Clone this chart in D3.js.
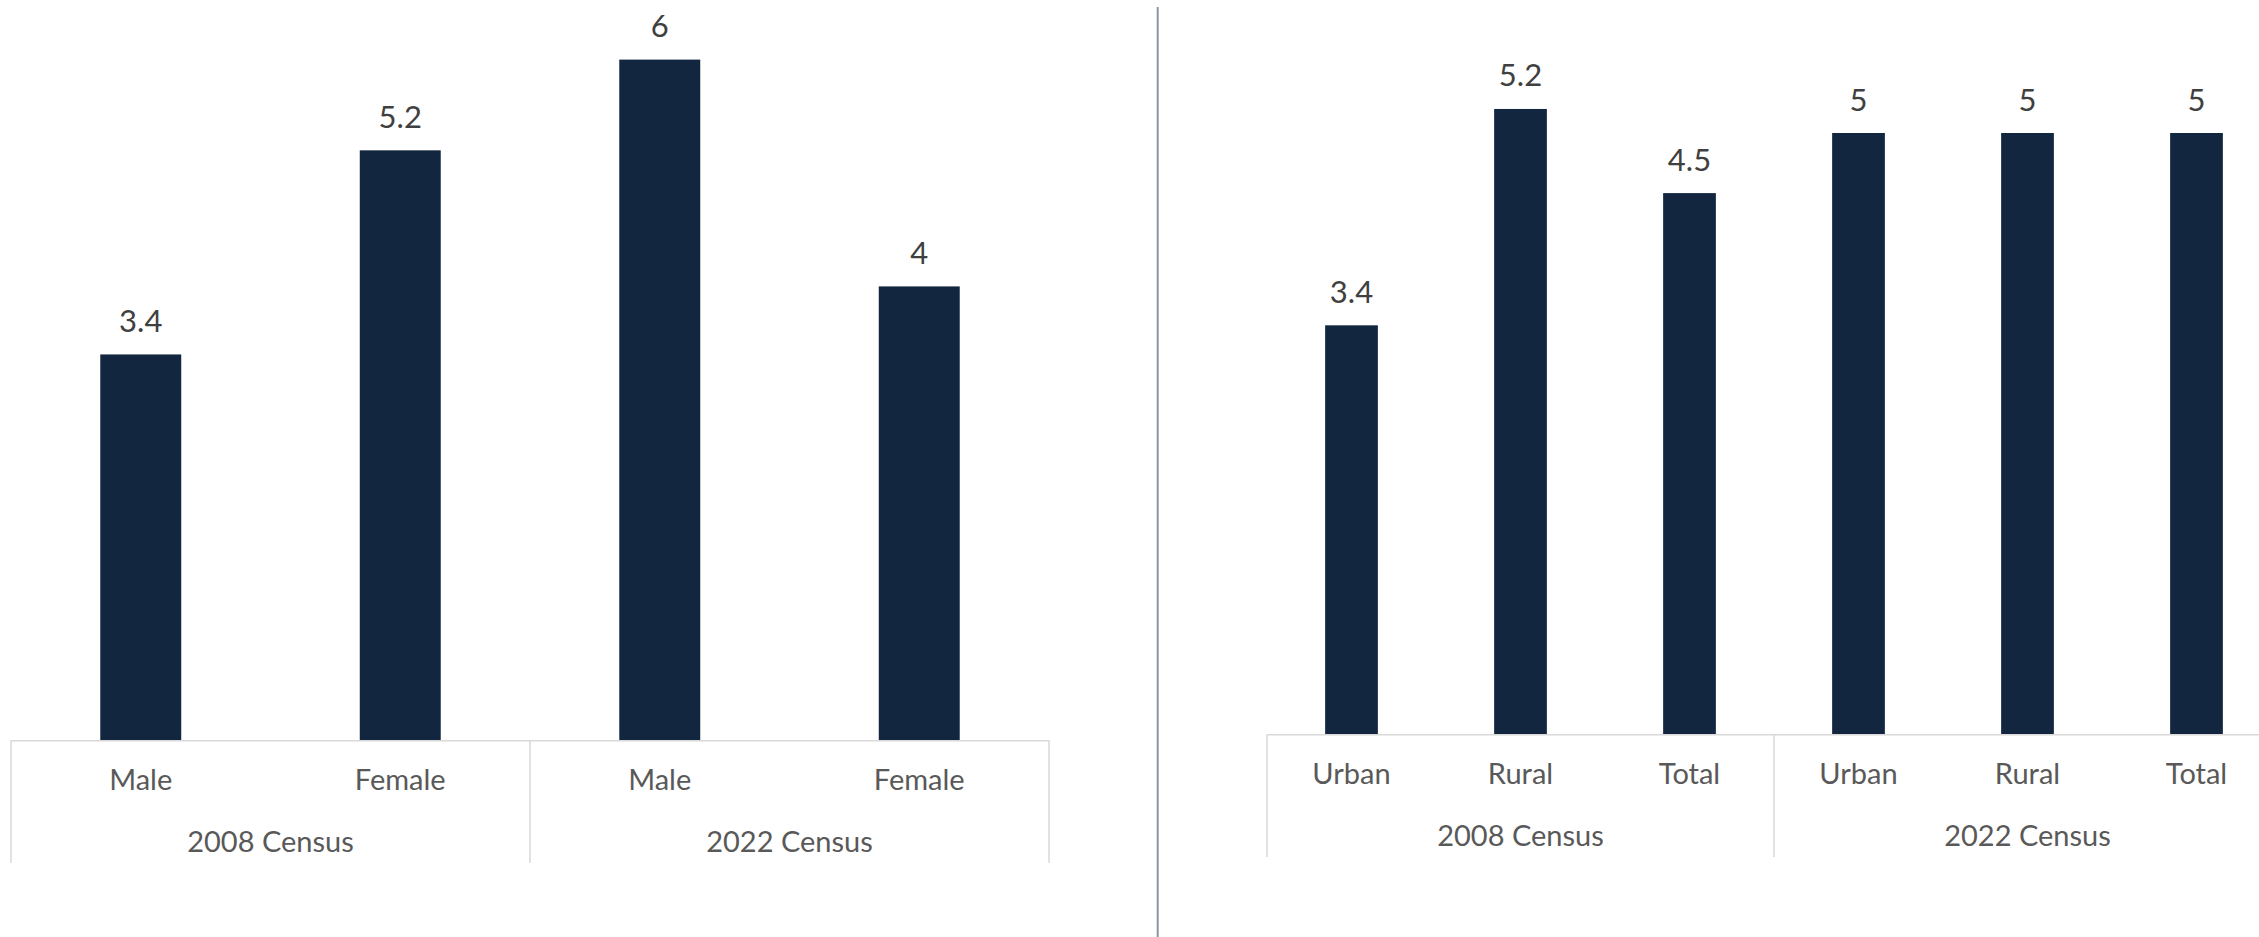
<!DOCTYPE html>
<html>
<head>
<meta charset="utf-8">
<script src="https://cdn.jsdelivr.net/npm/d3@7"></script>
<style>
  html, body { margin: 0; padding: 0; background: #ffffff; }
  svg { display: block; }
</style>
</head>
<body>
<svg id="chart" width="2259" height="937"></svg>
<script>
// Left chart: by sex
const sexCategories = ["Male", "Female", "Male", "Female"];
const sexValues = [3.4, 5.2, 6, 4];
// Right chart: by place of residence
const areaCategories = ["Urban", "Rural", "Total", "Urban", "Rural", "Total"];
const areaValues = [3.4, 5.2, 4.5, 5, 5, 5];
// Census rounds shared by both charts
const censusGroups = ["2008 Census", "2022 Census"];

const BAR = "#12263f";
const AXIS = "#d9d9d9";
const LABEL = "#595959";
const VALUE = "#404040";
const FONT = "Lato, 'Open Sans', sans-serif";

const svg = d3.select("#chart");

function drawPanel(cfg) {
  const { categories, values, groups, x0, x1, base, pxPerUnit } = cfg;
  const g = svg.append("g");
  const idx = categories.map((_, i) => i);

  const x = d3.scaleBand()
    .domain(idx)
    .range([x0, x1])
    .paddingInner(0.688)
    .paddingOuter(0.344);

  const yMax = 6;
  const y = d3.scaleLinear()
    .domain([0, yMax])
    .range([base, base - yMax * pxPerUnit]);

  // bars
  g.selectAll("rect.bar")
    .data(values)
    .join("rect")
    .attr("class", "bar")
    .attr("x", (d, i) => x(i))
    .attr("width", x.bandwidth())
    .attr("y", d => y(d))
    .attr("height", d => y(0) - y(d))
    .attr("fill", BAR);

  // value labels
  g.selectAll("text.value")
    .data(values)
    .join("text")
    .attr("class", "value")
    .attr("x", (d, i) => x(i) + x.bandwidth() / 2)
    .attr("y", d => y(d) - 22.5)
    .attr("text-anchor", "middle")
    .attr("font-family", FONT)
    .attr("font-size", 31)
    .attr("fill", VALUE)
    .text(d => d3.format("~g")(d));

  // category axis (first level)
  const axis = d3.axisBottom(x)
    .tickSize(0)
    .tickSizeOuter(0)
    .tickFormat(i => categories[i]);
  const ax = g.append("g")
    .attr("transform", `translate(0,${base})`)
    .call(axis);
  ax.select(".domain").remove();
  ax.selectAll(".tick text")
    .attr("y", 50)
    .attr("dy", 0)
    .attr("font-family", FONT)
    .attr("font-size", 29)
    .attr("fill", LABEL);

  // baseline
  g.append("line")
    .attr("x1", x0).attr("x2", x1)
    .attr("y1", base + 0.75).attr("y2", base + 0.75)
    .attr("stroke", AXIS).attr("stroke-width", 1.5);

  // second level: census groups
  const perGroup = categories.length / groups.length;
  const step = x.step();
  const bounds = d3.range(groups.length + 1).map(k => x0 + k * perGroup * step);
  g.selectAll("line.sep")
    .data(bounds)
    .join("line")
    .attr("class", "sep")
    .attr("x1", d => d).attr("x2", d => d)
    .attr("y1", base).attr("y2", base + 123)
    .attr("stroke", AXIS).attr("stroke-width", 1.5);

  g.selectAll("text.group")
    .data(groups)
    .join("text")
    .attr("class", "group")
    .attr("x", (d, k) => (bounds[k] + bounds[k + 1]) / 2)
    .attr("y", base + 112)
    .attr("text-anchor", "middle")
    .attr("font-family", FONT)
    .attr("font-size", 29)
    .attr("fill", LABEL)
    .text(d => d);
}

drawPanel({
  categories: sexCategories,
  values: sexValues,
  groups: censusGroups,
  x0: 11, x1: 1049,
  base: 740,
  pxPerUnit: 113.4
});

drawPanel({
  categories: areaCategories,
  values: areaValues,
  groups: censusGroups,
  x0: 1267, x1: 2281,
  base: 734,
  pxPerUnit: 120.2
});

// divider between the two charts
svg.append("line")
  .attr("x1", 1157.7).attr("x2", 1157.7)
  .attr("y1", 7).attr("y2", 937)
  .attr("stroke", "#8a96a3")
  .attr("stroke-width", 2);
</script>
</body>
</html>
